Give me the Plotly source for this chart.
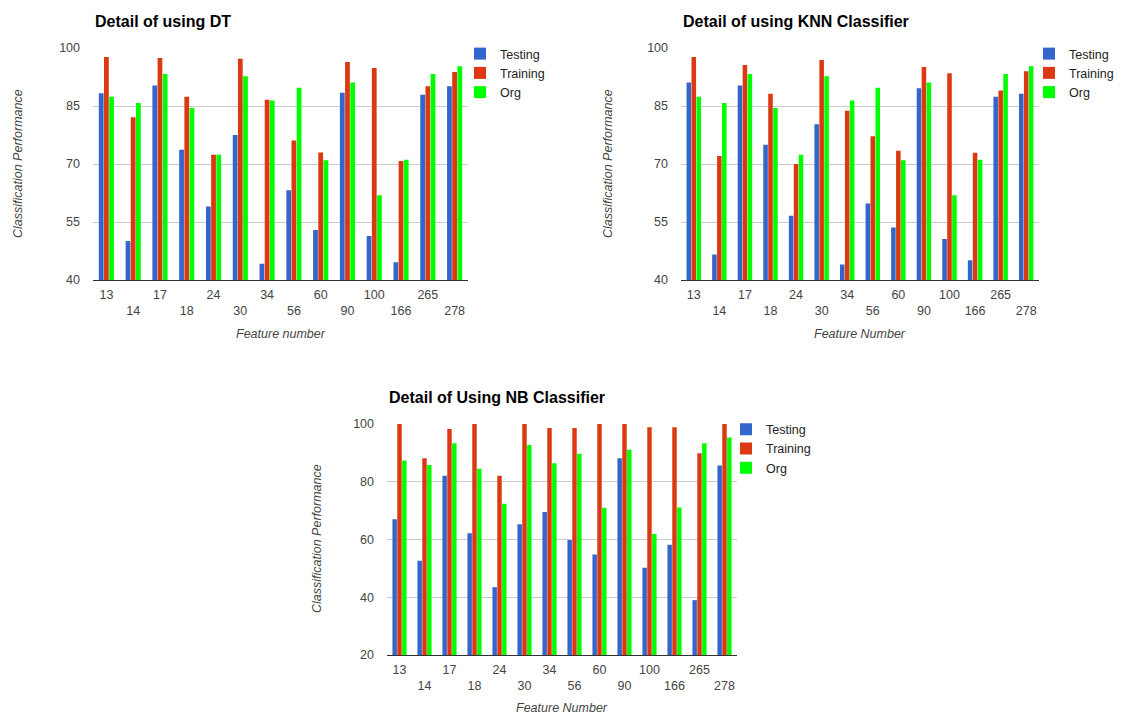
import plotly.graph_objects as go

features = ["13", "14", "17", "18", "24", "30", "34", "56", "60", "90", "100", "166", "265", "278"]

org = [87.4, 85.8, 93.3, 84.5, 72.4, 92.7, 86.4, 89.7, 71.0, 91.1, 61.9, 71.1, 93.3, 95.3]

dt_testing = [88.3, 50.1, 90.3, 73.7, 59.0, 77.5, 44.2, 63.2, 52.9, 88.4, 51.4, 44.6, 87.9, 90.1]
dt_training = [97.7, 82.1, 97.4, 87.4, 72.4, 97.2, 86.6, 76.1, 73.0, 96.4, 94.8, 70.8, 90.1, 93.8]

knn_testing = [91.1, 46.6, 90.3, 75.0, 56.6, 80.3, 44.0, 59.8, 53.6, 89.6, 50.6, 45.1, 87.4, 88.2]
knn_training = [97.7, 72.1, 95.6, 88.2, 70.0, 96.9, 83.8, 77.2, 73.4, 95.1, 93.5, 72.9, 89.0, 94.0]

nb_testing = [67.0, 52.6, 82.1, 62.2, 43.5, 65.3, 69.5, 59.8, 54.8, 88.1, 50.2, 58.2, 39.0, 85.6]
nb_training = [100.0, 88.1, 98.3, 100.0, 82.1, 100.0, 98.6, 98.6, 100.0, 100.0, 98.9, 98.9, 89.9, 100.0]

series_names = ["Testing", "Training", "Org"]
colors = ["#3366cc", "#dc3912", "#00ff00"]

W, H = 1137, 715
FONT = "Liberation Sans, Arial, sans-serif"

def px(x):
    return x / W

def py(y):
    return 1 - y / H

fig = go.Figure()

charts = [
    dict(ax="", legend="legend", data=[dt_testing, dt_training, org]),
    dict(ax="2", legend="legend2", data=[knn_testing, knn_training, org]),
    dict(ax="3", legend="legend3", data=[nb_testing, nb_training, org]),
]

for c in charts:
    for name, vals, col in zip(series_names, c["data"], colors):
        fig.add_trace(go.Bar(
            x=features, y=vals, name=name,
            marker=dict(color=col, line=dict(width=0)),
            xaxis="x" + c["ax"], yaxis="y" + c["ax"],
            legend=c["legend"],
            hoverinfo="x+y+name",
        ))

ticktext = [f if i % 2 == 0 else "<br>" + f for i, f in enumerate(features)]

def xaxis(domain, anchor):
    return dict(
        domain=domain, anchor=anchor, type="category",
        tickvals=features, ticktext=ticktext,
        showline=True, linecolor="#333333", linewidth=1,
        showgrid=False, ticks="", ticklabelstandoff=3,
        tickfont=dict(family=FONT, size=12.5, color="#444444"),
        fixedrange=True, automargin=False,
    )

def yaxis(domain, anchor, rng, dtick):
    return dict(
        domain=domain, anchor=anchor, range=rng, dtick=dtick, tick0=rng[0],
        showgrid=True, gridcolor="#cccccc", gridwidth=1,
        zeroline=False, showline=False, ticks="", ticklabelstandoff=12,
        tickfont=dict(family=FONT, size=12.5, color="#444444"),
        fixedrange=True, automargin=False,
    )

top_y = [py(280), py(48)]
bot_y = [py(655), py(424)]

fig.update_layout(
    width=W, height=H, autosize=False,
    margin=dict(l=0, r=0, t=0, b=0, pad=0, autoexpand=False),
    paper_bgcolor="white", plot_bgcolor="white",
    barmode="group", bargap=0.42, bargroupgap=0.08,
    showlegend=True,
    xaxis=xaxis([px(93), px(468)], "y"),
    yaxis=yaxis(top_y, "x", [40, 100], 15),
    xaxis2=xaxis([px(681), px(1039)], "y2"),
    yaxis2=yaxis(top_y, "x2", [40, 100], 15),
    xaxis3=xaxis([px(387), px(737)], "y3"),
    yaxis3=yaxis(bot_y, "x3", [20, 100], 20),
)

leg_common = dict(
    font=dict(family=FONT, size=12.5, color="#222222"),
    bgcolor="rgba(0,0,0,0)", xanchor="left", yanchor="top",
    tracegroupgap=0, itemwidth=30, itemclick=False, itemdoubleclick=False,
)
fig.update_layout(
    legend=dict(x=px(460), y=py(39), **leg_common),
    legend2=dict(x=px(1029), y=py(39), **leg_common),
    legend3=dict(x=px(726), y=py(414.5), **leg_common),
)

annotations = []
for text, x, y in [("Detail of using DT", 93, 21),
                   ("Detail of using KNN Classifier", 681, 21),
                   ("Detail of Using NB Classifier", 387, 397)]:
    annotations.append(dict(text="<b>" + text + "</b>", x=px(x), y=py(y), xref="paper", yref="paper",
                            xanchor="left", yanchor="middle", showarrow=False,
                            font=dict(family=FONT, size=16, color="#000000")))
for text, x, y in [("Classification Performance", 18, 164),
                   ("Classification Performance", 608, 164),
                   ("Classification Performance", 317, 539)]:
    annotations.append(dict(text="<i>" + text + "</i>", x=px(x), y=py(y), xref="paper", yref="paper",
                            xanchor="center", yanchor="middle", textangle=-90, showarrow=False,
                            font=dict(family=FONT, size=12.5, color="#444444")))
for text, x, y in [("Feature number", 280.5, 334),
                   ("Feature Number", 860, 334),
                   ("Feature Number", 562, 708)]:
    annotations.append(dict(text="<i>" + text + "</i>", x=px(x), y=py(y), xref="paper", yref="paper",
                            xanchor="center", yanchor="middle", showarrow=False,
                            font=dict(family=FONT, size=12.5, color="#444444")))
fig.update_layout(annotations=annotations)

fig.write_html("out.html", config={"displayModeBar": False})
